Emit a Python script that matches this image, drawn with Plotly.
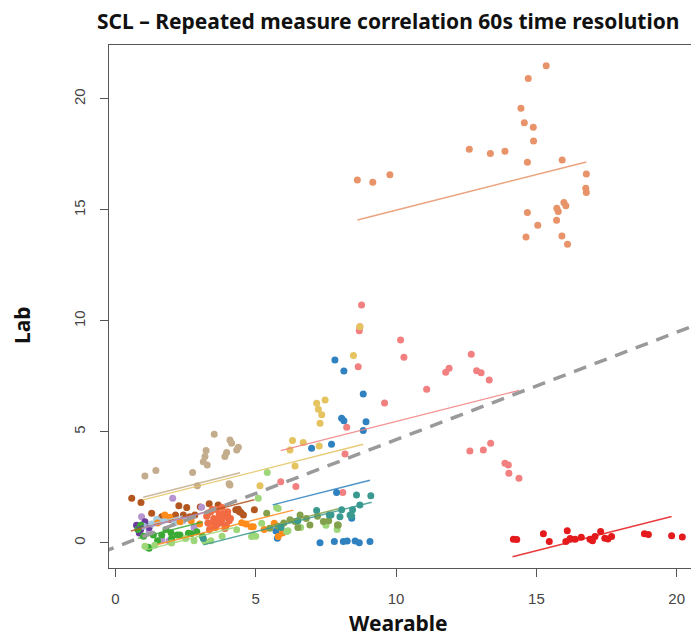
import plotly.graph_objects as go

# ---------------- data ----------------
subjects = ["S01", "S02", "S03", "S04", "S05", "S06", "S07", "S08",
            "S09", "S10", "S11", "S12", "S13", "S14", "S15", "S16"]
colors = ["#E8936A", "#F28080", "#E41A1C", "#2F82BF", "#E5C35F", "#C4AD8C",
          "#B3561F", "#B694CF", "#6A3D9A", "#A6CEE3", "#FF8C1A", "#F26B43",
          "#3BAA35", "#9ED67A", "#83A04C", "#3A9A90"]

s01_x = [8.62, 9.17, 9.78, 12.61, 13.36, 13.88, 14.45, 14.71, 15.35, 14.57, 14.89, 14.90, 14.68, 15.92,
         16.78, 16.76, 16.78, 14.68, 15.05, 14.63, 15.72, 15.73, 15.78, 15.98, 16.05, 15.91, 16.11]
s01_y = [16.35, 16.25, 16.59, 17.73, 17.54, 17.64, 19.58, 20.92, 21.50, 18.93, 18.72, 18.11, 17.15, 17.25,
         16.62, 15.98, 15.78, 14.88, 14.31, 13.78, 14.54, 15.08, 14.93, 15.33, 15.19, 13.83, 13.45]

s02_x = [8.77, 8.71, 8.69, 8.65, 8.24, 8.18, 9.59, 10.16, 10.28, 11.09, 11.77, 11.89, 12.68, 12.87, 13.03,
         13.32, 13.37, 13.11, 12.63, 13.88, 14.00, 14.02, 14.38, 8.10, 5.89, 6.43]
s02_y = [10.72, 9.74, 9.56, 7.94, 5.21, 4.01, 6.30, 9.14, 8.36, 6.92, 7.69, 7.87, 8.50, 7.76, 7.67,
         7.34, 4.49, 4.19, 4.14, 3.59, 3.51, 3.14, 2.91, 2.27, 2.76, 2.54]

s03_x = [14.18, 15.25, 15.46, 16.10, 16.05, 16.38, 16.91, 17.09, 17.29, 17.44, 17.68, 18.85, 18.99, 19.82,
         20.20, 14.30, 16.60, 17.00, 17.55, 16.20]
s03_y = [0.17, 0.41, 0.06, 0.55, 0.06, 0.17, 0.17, 0.29, 0.51, 0.21, 0.29, 0.41, 0.38, 0.32,
         0.27, 0.15, 0.25, 0.10, 0.18, 0.20]

s04_x = [7.82, 8.14, 8.83, 8.06, 8.14, 8.93, 8.83, 7.70, 6.99, 7.88, 7.29, 7.80, 8.12, 8.26, 8.54, 8.69,
         9.07, 5.72, 5.77, 8.42]
s04_y = [8.24, 7.75, 6.71, 5.62, 5.50, 5.46, 5.06, 4.45, 4.27, 2.27, 0.01, 0.06, 0.06, 0.09, 0.09, 0.01,
         0.06, 0.54, 0.21, 1.11]

s05_x = [8.48, 8.71, 7.17, 7.47, 7.23, 7.35, 7.29, 6.31, 6.69, 6.22, 7.26, 6.40, 5.15]
s05_y = [8.44, 9.74, 6.29, 6.44, 6.02, 5.77, 5.39, 4.61, 4.52, 4.19, 4.37, 3.47, 2.57]

s06_x = [3.52, 4.08, 4.14, 4.38, 4.32, 3.23, 3.96, 3.90, 3.19, 3.13, 3.27, 2.75, 1.44, 1.05, 2.92, 4.08,
         4.05, 1.05]
s06_y = [4.90, 4.64, 4.49, 4.31, 4.19, 4.16, 4.07, 3.89, 3.89, 3.66, 3.51, 3.17, 3.26, 3.02, 2.57, 2.61,
         2.66, 0.89]

s07_x = [0.58, 0.91, 1.29, 2.26, 2.54, 3.02, 3.34, 3.66, 2.14, 2.65, 4.29, 4.41, 4.56, 4.95, 1.65, 4.38,
         4.47, 2.42, 2.83, 1.95]
s07_y = [2.01, 1.82, 1.34, 1.67, 1.59, 1.62, 1.76, 1.71, 1.26, 1.18, 1.49, 1.41, 1.26, 1.49, 1.18, 1.52,
         1.37, 1.26, 1.26, 1.05]

s08_x = [0.93, 2.04, 3.07, 1.91, 1.65, 2.40, 1.20, 2.80, 3.30]
s08_y = [1.18, 2.01, 1.61, 0.10, 0.14, 1.00, 0.50, 0.70, 0.90]

s09_x = [0.75, 0.90, 1.05, 1.20, 0.85]
s09_y = [0.80, 0.60, 0.95, 0.70, 0.45]

s10_x = [1.30, 1.47, 1.60, 1.80, 2.10, 2.40, 1.00]
s10_y = [0.85, 1.07, 0.95, 1.10, 0.90, 1.00, 0.75]

s11_x = [1.76, 1.94, 2.30, 2.70, 3.00, 4.50, 4.65, 4.91, 5.80, 5.66, 4.83, 5.30, 5.95, 3.50, 1.50]
s11_y = [1.26, 1.16, 0.95, 1.00, 0.85, 0.91, 0.85, 0.73, 0.29, 0.89, 0.73, 0.60, 0.45, 0.80, 0.90]

s12_x = [3.25, 3.30, 3.40, 3.50, 3.55, 3.60, 3.70, 3.75, 3.80, 3.90, 3.95, 4.00, 4.05, 3.35, 3.45, 3.65,
         3.85, 4.10, 3.50, 3.70, 3.90, 3.30, 3.60, 3.80, 4.00]
s12_y = [1.20, 0.90, 1.40, 1.10, 0.70, 1.50, 1.30, 0.90, 1.60, 1.20, 0.80, 1.40, 1.00, 0.60, 1.50, 1.00,
         1.30, 1.10, 0.95, 1.25, 0.65, 1.35, 0.80, 1.05, 1.20]

s13_x = [1.20, 1.17, 1.65, 2.20, 2.60, 1.98, 2.30, 2.69, 1.35, 0.80, 1.00, 1.50, 2.00, 2.90, 3.10, 1.80, 0.90]
s13_y = [-0.24, -0.20, 0.36, 0.36, 0.44, 0.46, 0.36, 0.41, 0.36, 0.60, 0.30, 0.10, 0.20, 0.50, 0.30, 0.60, 0.80]

s14_x = [5.41, 5.09, 5.74, 5.80, 4.91, 5.00, 6.10, 6.15, 5.21, 4.32, 4.85, 3.19, 3.40, 2.50, 2.00, 1.40,
         7.90, 7.50, 6.60, 3.80, 2.80, 1.05]
s14_y = [3.17, 2.01, 1.59, 1.55, 0.36, 0.30, 0.51, 0.55, 0.89, 0.59, 0.29, 0.06, 0.10, 0.20, 0.00, -0.10,
         0.60, 0.80, 0.70, 0.30, 0.10, -0.15]

s15_x = [5.39, 6.40, 6.58, 6.93, 6.22, 5.50, 7.41, 7.94, 7.91, 6.00, 6.80, 7.20, 5.80, 7.60, 6.50]
s15_y = [1.34, 0.96, 1.26, 0.81, 1.04, 0.66, 0.96, 0.81, 0.81, 0.90, 1.10, 1.20, 0.75, 1.00, 0.70]

s16_x = [8.59, 9.10, 8.71, 7.17, 7.62, 8.00, 8.42, 8.45, 8.06, 7.68, 8.36, 3.13, 6.50, 5.90]
s16_y = [2.16, 2.12, 1.71, 1.46, 1.26, 1.18, 1.21, 1.49, 1.49, 1.26, 1.26, 0.20, 1.00, 0.70]

# per-subject parallel fit lines (common slope)
common_slope = 0.32
fit_start = [8.62, 5.89, 14.15, 5.60, 0.99, 0.99, 0.55, 0.93, 0.75, 1.00, 1.50, 3.25, 0.80, 1.05, 5.39, 3.13]
fit_end = [16.78, 14.38, 19.82, 9.07, 8.83, 4.44, 4.95, 3.30, 1.20, 2.40, 6.34, 4.10, 3.10, 4.20, 7.94, 9.13]
fit_intercept = [11.79, 2.27, -5.15, -0.08, 1.62, 1.74, 0.36, 0.35, 0.45, 0.45, -0.55, -0.07, -0.05,
                 -0.66, -1.00, -1.09]

# overall (pooled) regression line
overall_intercept = -0.19
overall_slope = 0.484

x_ticks = [0, 5, 10, 15, 20]
y_ticks = [0, 5, 10, 15, 20]
x_range = [-0.23, 20.51]
y_range = [-1.13, 22.43]

title_text = "SCL \u2013 Repeated measure correlation 60s time resolution"
x_title = "Wearable"
y_title = "Lab"

# ---------------- figure ----------------
xs = [s01_x, s02_x, s03_x, s04_x, s05_x, s06_x, s07_x, s08_x, s09_x, s10_x, s11_x, s12_x, s13_x, s14_x,
      s15_x, s16_x]
ys = [s01_y, s02_y, s03_y, s04_y, s05_y, s06_y, s07_y, s08_y, s09_y, s10_y, s11_y, s12_y, s13_y, s14_y,
      s15_y, s16_y]

fig = go.Figure()
for name, col, gx, gy in zip(subjects, colors, xs, ys):
    fig.add_trace(go.Scatter(x=gx, y=gy, mode="markers", name=name,
                             marker=dict(color=col, size=7, line=dict(width=0)),
                             showlegend=False, hoverinfo="x+y"))

for name, col, x0, x1, b in zip(subjects, colors, fit_start, fit_end, fit_intercept):
    fig.add_trace(go.Scatter(x=[x0, x1], y=[b + common_slope * x0, b + common_slope * x1],
                             mode="lines", line=dict(color=col, width=1.4),
                             opacity=0.85, showlegend=False, hoverinfo="skip"))

fig.add_trace(go.Scatter(x=[x_range[0] - 1, x_range[1] + 1],
                         y=[overall_intercept + overall_slope * (x_range[0] - 1),
                            overall_intercept + overall_slope * (x_range[1] + 1)],
                         mode="lines", line=dict(color="#9A9A9A", width=3.5, dash="13px,9px"),
                         showlegend=False, hoverinfo="skip"))

tick_font = dict(family="Liberation Sans, Arial, sans-serif", size=15, color="#444444")
axis_common = dict(showgrid=False, zeroline=False, showline=True, linecolor="#555555", linewidth=1.3,
                   ticks="outside", ticklen=8, tickwidth=1.3, tickcolor="#555555", tickfont=tick_font)

fig.update_xaxes(range=x_range, tickvals=x_ticks, mirror=True, ticklabelstandoff=9, **axis_common)
fig.update_yaxes(range=y_range, tickvals=y_ticks, tickangle=-90, mirror=False, ticklabelstandoff=9,
                 **axis_common)

title_font = dict(family="Noto Sans, Open Sans, sans-serif", size=21, color="#111111", weight="bold")
label_font = dict(family="Noto Sans, Open Sans, sans-serif", size=21, color="#111111", weight="bold")
fig.update_layout(
    width=691, height=640,
    margin=dict(l=109, r=0, t=45, b=72, pad=0),
    plot_bgcolor="white", paper_bgcolor="white",
    title=dict(text=title_text, font=title_font, xref="container", yref="container",
               x=97 / 691, xanchor="left", y=1 - 22 / 640, yanchor="middle"),
    annotations=[
        dict(text=x_title, xref="paper", yref="paper", x=0.4966, y=-0.106, showarrow=False,
             xanchor="center", yanchor="middle", font=label_font),
        dict(text=y_title, xref="paper", yref="paper", x=-0.1495, y=0.4646, showarrow=False,
             textangle=-90, xanchor="center", yanchor="middle", font=label_font),
    ],
)

fig.write_html("out.html")
